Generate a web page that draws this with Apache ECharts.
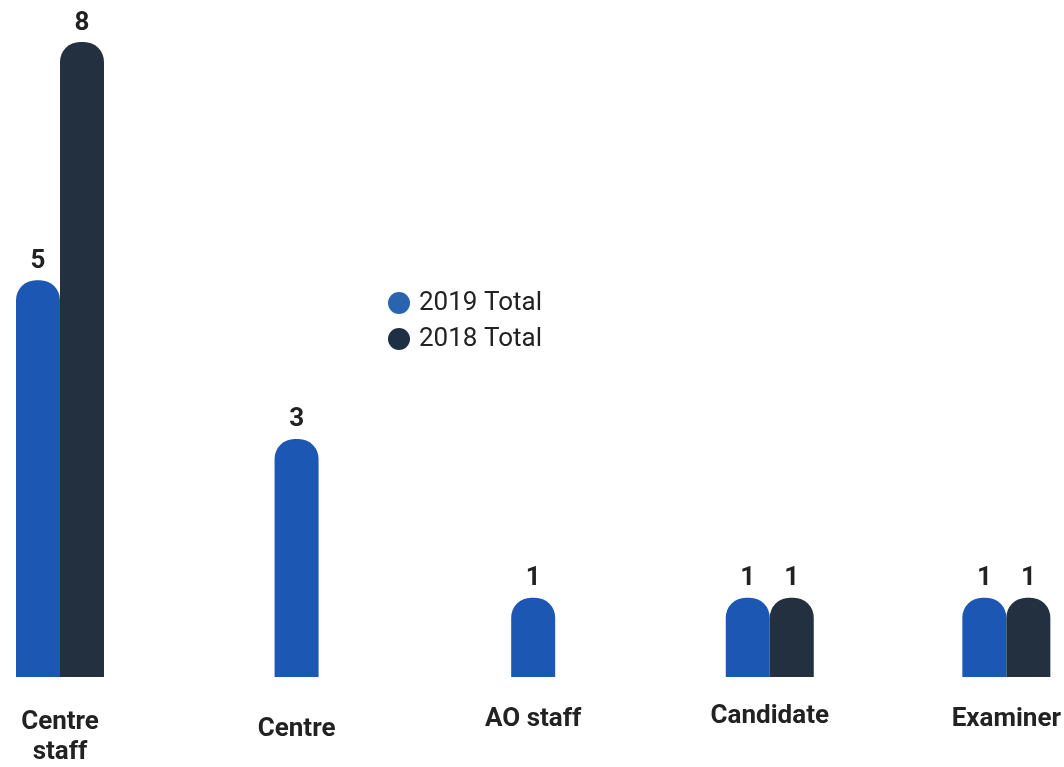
<!DOCTYPE html>
<html>
<head>
<meta charset="utf-8">
<script src="https://cdn.jsdelivr.net/npm/echarts@6/dist/echarts.min.js"></script>
<style>
  html, body { margin: 0; padding: 0; background: #fff; }
  #chart { width: 1064px; height: 767px; }
</style>
</head>
<body>
<div id="chart"></div>
<script>
let categories = ['Centre\nstaff', 'Centre', 'AO staff', 'Candidate', 'Examiner']
let values2019 = [5, 3, 1, 1, 1]
let values2018 = [8, null, null, 1, 1]

let chart = echarts.init(document.getElementById('chart'));

// pairs sit on axis 0, lone 2019 bars on axis 1 so they stay centred
let paired2019 = values2019.map((v, i) => values2018[i] == null ? null : v)
let single2019 = values2019.map((v, i) => values2018[i] == null ? v : null)

let labelShift = [6, 13, 3, 0, 3]
let blue = '#1c57b3'
let navy = '#23303f'

let barLabel = {
    show: true,
    position: 'top',
    distance: 6,
    fontFamily: 'Roboto',
    fontWeight: 'bold',
    fontSize: 26,
    color: '#222'
}

let option = {
    animation: false,
    grid: {left: 60, right: 56, top: 42, bottom: 90, containLabel: false},
    legend: {
        orient: 'vertical',
        left: 383,
        top: 285,
        icon: 'circle',
        itemWidth: 22,
        itemHeight: 22,
        itemGap: 10,
        textStyle: {fontFamily: 'Roboto', fontSize: 26, color: '#222', padding: [0, 0, 0, 4]},
        data: [
            {name: '2019 Total', itemStyle: {color: '#2a64ae'}},
            {name: '2018 Total', itemStyle: {color: '#1f3045'}}
        ]
    },
    xAxis: [
        {
            type: 'category',
            boundaryGap: false,
            data: categories.map((c, i) => ({value: c, textStyle: {padding: [labelShift[i], 0, 0, 0]}})),
            axisLine: {show: false},
            axisTick: {show: false},
            axisLabel: {
                margin: 24,
                interval: 0,
                fontFamily: 'Roboto',
                fontWeight: 'bold',
                fontSize: 26,
                lineHeight: 30,
                color: '#222'
            }
        },
        {
            type: 'category',
            boundaryGap: false,
            data: categories,
            show: false
        }
    ],
    yAxis: {
        type: 'value',
        min: 0,
        max: 8,
        show: false,
        splitLine: {show: false}
    },
    series: [
        {
            name: '2019 Total',
            type: 'bar',
            xAxisIndex: 0,
            data: paired2019,
            barWidth: 44,
            barGap: 0,
            clip: false,
            itemStyle: {color: blue, borderRadius: [20, 20, 0, 0]},
            label: barLabel
        },
        {
            name: '2018 Total',
            type: 'bar',
            xAxisIndex: 0,
            data: values2018,
            barWidth: 44,
            barGap: 0,
            clip: false,
            itemStyle: {color: navy, borderRadius: [20, 20, 0, 0]},
            label: barLabel
        },
        {
            name: '2019 Total',
            type: 'bar',
            xAxisIndex: 1,
            data: single2019,
            barWidth: 44,
            clip: false,
            itemStyle: {color: blue, borderRadius: [20, 20, 0, 0]},
            label: barLabel
        }
    ]
};
chart.setOption(option);
</script>
</body>
</html>
